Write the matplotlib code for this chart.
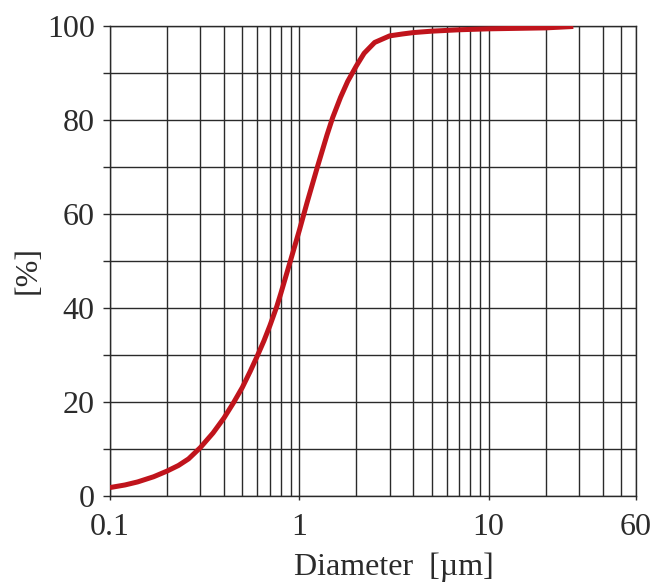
import matplotlib.pyplot as plt
from matplotlib.ticker import FixedLocator, NullFormatter


# cumulative particle size distribution
diameter_um = [0.1, 0.12, 0.14, 0.17, 0.2, 0.23, 0.26, 0.3, 0.35, 0.4,
               0.45, 0.5, 0.55, 0.6, 0.65, 0.7, 0.76, 0.8, 0.9, 1.0,
               1.1, 1.25, 1.4, 1.5, 1.65, 1.8, 2.0, 2.2, 2.5, 3.0,
               3.5, 4.0, 5.0, 7.0, 10.0, 20.0, 28.0]
cumulative_pct = [1.8, 2.35, 3.0, 4.1, 5.3, 6.5, 7.9, 10.3, 13.4, 16.6,
                  19.9, 23.1, 26.5, 29.8, 33.0, 36.3, 40.3, 43.2, 50.2, 56.5,
                  62.5, 70.2, 76.8, 80.5, 84.8, 88.2, 91.5, 94.2, 96.5, 97.9,
                  98.3, 98.6, 98.9, 99.2, 99.4, 99.6, 99.9]

x_major = [0.1, 1, 10, 60]
x_major_labels = ["0.1", "1", "10", "60"]
x_minor = [0.2, 0.3, 0.4, 0.5, 0.6, 0.7, 0.8, 0.9,
           2, 3, 4, 5, 6, 7, 8, 9,
           20, 30, 40, 50]
y_major = [0, 20, 40, 60, 80, 100]
y_minor = [10, 30, 50, 70, 90]

grid_color = "#2a2a2a"
text_color = "#2b2b2b"

plt.rcParams["font.family"] = ["Liberation Serif", "DejaVu Serif"]

fig = plt.figure(figsize=(6.57, 5.83), dpi=100)
ax = fig.add_axes([0.1674, 0.1492, 0.8006, 0.8062])

ax.set_xscale("log")
ax.set_xlim(0.1, 60)
ax.set_ylim(0, 100)

ax.xaxis.set_major_locator(FixedLocator(x_major))
ax.xaxis.set_minor_locator(FixedLocator(x_minor))
ax.set_xticklabels(x_major_labels)
ax.xaxis.set_minor_formatter(NullFormatter())

ax.yaxis.set_major_locator(FixedLocator(y_major))
ax.yaxis.set_minor_locator(FixedLocator(y_minor))

ax.grid(which="both", color=grid_color, linewidth=1.0, zorder=1)

ax.tick_params(axis="x", which="major", length=3, width=1.0, color=grid_color,
               labelsize=23, labelcolor=text_color, pad=9)
ax.tick_params(axis="x", which="minor", length=0)
ax.tick_params(axis="y", which="both", length=5, width=1.0, color=grid_color,
               labelsize=23, labelcolor=text_color, pad=6)

for spine in ax.spines.values():
    spine.set_color(grid_color)
    spine.set_linewidth(1.0)

ax.plot(diameter_um, cumulative_pct, color="#c0141c", linewidth=3.6,
        solid_capstyle="butt", solid_joinstyle="round", zorder=3)

ax.set_xlabel("Diameter  [µm]", fontsize=23, color=text_color)
ax.xaxis.set_label_coords(0.54, -0.12)
ax.set_ylabel("[%]", fontsize=23, color=text_color)
ax.yaxis.set_label_coords(-0.129, 0.481)

fig.savefig("out.png", dpi=100)
plt.close(fig)
